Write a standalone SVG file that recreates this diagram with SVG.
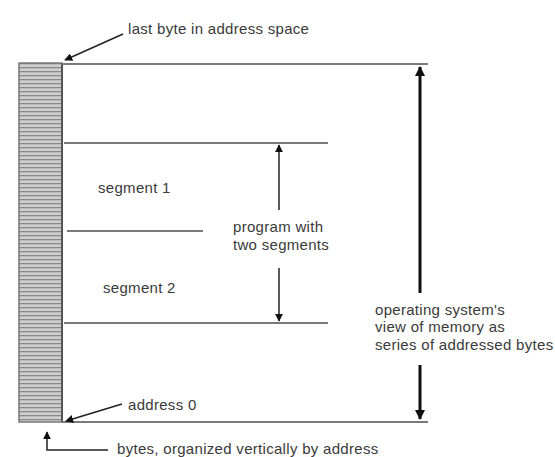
<svg xmlns="http://www.w3.org/2000/svg" width="555" height="457" viewBox="0 0 555 457">
<style>
.t{font-family:"Liberation Sans",Arial,sans-serif;font-size:15px;fill:#3a3a3a;letter-spacing:0.3px}
.h{stroke:#7a7a7a;stroke-width:2;fill:none}
.a{stroke:#222;stroke-width:1.5;fill:none}
</style>
<defs>
<pattern id="stripes" x="0" y="63" width="43" height="4" patternUnits="userSpaceOnUse">
<rect width="43" height="4" fill="#cfcfcf"/>
<rect y="0" width="43" height="1.3" fill="#8a8a8a"/>
</pattern>
<marker id="ah" viewBox="0 0 10 10" refX="9" refY="5" markerWidth="8" markerHeight="8" markerUnits="userSpaceOnUse" orient="auto">
<path d="M0,0 L10,5 L0,10 z" fill="#111"/>
</marker>
<marker id="ahb" viewBox="0 0 10 10" refX="9" refY="5" markerWidth="12" markerHeight="10" markerUnits="userSpaceOnUse" orient="auto">
<path d="M0,0 L10,5 L0,10 z" fill="#111"/>
</marker>
</defs>
<rect width="555" height="457" fill="#fff"/>
<g id="memory-column">
<rect x="19" y="63" width="43" height="359" fill="url(#stripes)" stroke="#777" stroke-width="1.5"/>
<line x1="62" y1="63" x2="62" y2="422" stroke="#555" stroke-width="2"/>
</g>
<g id="boundaries">
<line class="h" x1="62" y1="64" x2="428" y2="64"/>
<line class="h" x1="62" y1="422" x2="428" y2="422"/>
<line class="h" x1="64" y1="143" x2="328" y2="143"/>
<line class="h" x1="67" y1="231" x2="203" y2="231"/>
<line class="h" x1="64" y1="323" x2="328" y2="323"/>
</g>
<g id="segment1"><text class="t" x="98" y="193">segment 1</text></g>
<g id="segment2"><text class="t" x="103" y="293">segment 2</text></g>
<g id="program-label"><text class="t" x="233" y="232">program with</text><text class="t" x="233" y="250">two segments</text></g>
<g id="os-label"><text class="t" x="375" y="315">operating system's</text><text class="t" x="375" y="332">view of memory as</text><text class="t" x="375" y="350">series of addressed bytes</text></g>
<g id="last-byte-label"><text class="t" x="128" y="34">last byte in address space</text></g>
<g id="address0-label"><text class="t" x="128" y="410">address 0</text></g>
<g id="bytes-label"><text class="t" x="117" y="454">bytes, organized vertically by address</text></g>
<g id="connectors">
<line class="a" x1="279" y1="210" x2="279" y2="145" marker-end="url(#ah)"/>
<line class="a" x1="279" y1="268" x2="279" y2="321" marker-end="url(#ah)"/>
<line x1="420" y1="293" x2="420" y2="67" stroke="#111" stroke-width="3" marker-end="url(#ahb)"/>
<line x1="420" y1="365" x2="420" y2="419" stroke="#111" stroke-width="3" marker-end="url(#ahb)"/>
<line class="a" x1="123" y1="34" x2="65" y2="60" marker-end="url(#ah)"/>
<line class="a" x1="122" y1="404" x2="66" y2="421" marker-end="url(#ah)"/>
<polyline class="a" points="108,450 47,450 47,432" marker-end="url(#ah)"/>
</g>
</svg>
